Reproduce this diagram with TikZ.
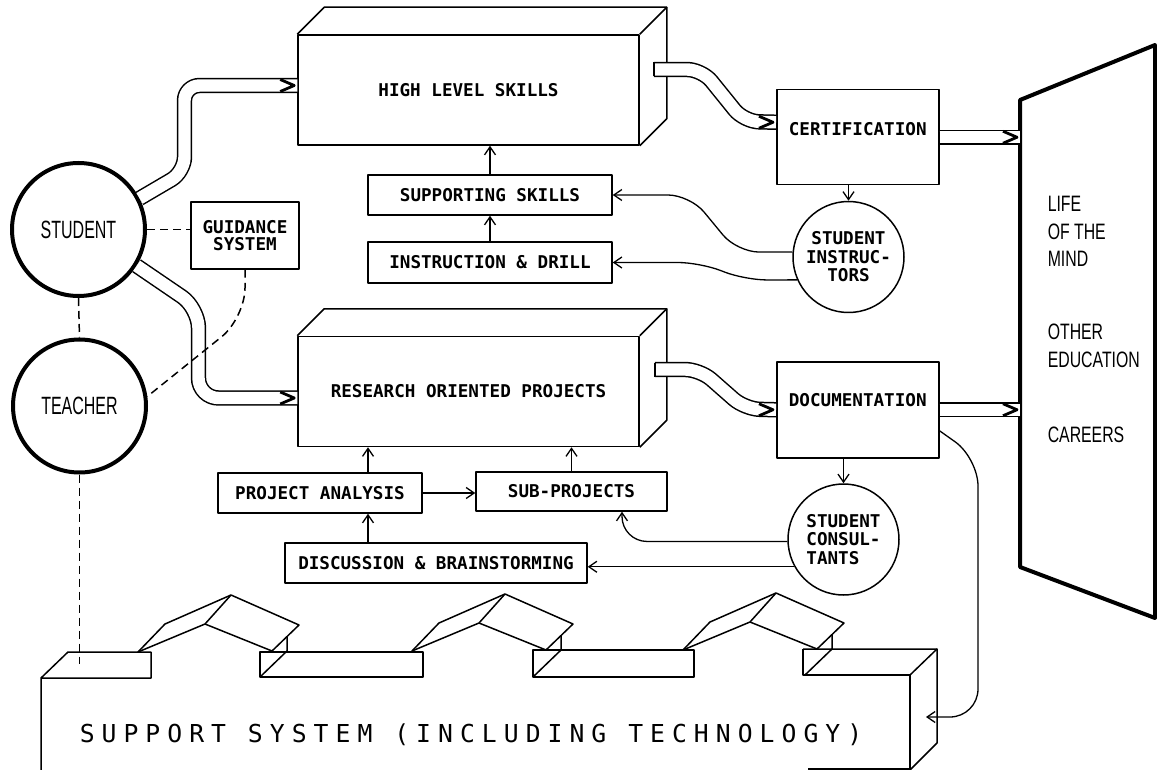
\documentclass[tikz,border=0pt]{standalone}
\usepackage{fontspec}
\setmainfont{DejaVu Sans Mono}
\newfontfamily\circfont[FakeStretch=0.64]{Liberation Sans}
\newfontfamily\panelfont[FakeStretch=0.71]{Liberation Sans}
\newfontfamily\widefont[LetterSpace=28.5]{DejaVu Sans Mono}
\usetikzlibrary{arrows.meta,positioning,calc}

\newcommand\lbl{\bfseries\fontsize{17.6}{18.5}\selectfont}
% top and side faces behind a front face node
\newcommand\slabdepth[1]{%
  \draw (#1.north west) -- ++(27,-27) -| ($(#1.south east)+(27,-27)$) -- (#1.south east);
  \draw (#1.north east) -- ++(27,-27);}

\tikzset{
  pipetip/.pic={\draw[line width=2.8pt] (-17,-6) -- (-3,0) -- (-17,6);},
  lid/.pic={
    \draw (0,0) -- (27,-28) -- (93,-57) -- (161,-27) -- (134,-1);
    \draw (0,0) -- (67,-28) -- (93,-57);
    \draw (67,-28) -- (134,-1);
    \draw (122,25) -- (149,-1) -- (149,-15);
  }
}

\begin{document}
\begin{tikzpicture}[
    x=1pt, y=-1pt, line width=1.5pt, line join=round,
    slab/.style={rectangle,draw,inner sep=0pt,minimum width=341pt,
                 minimum height=110pt,font=\lbl},
    card/.style={rectangle,draw,inner sep=0pt,font=\lbl},
    person/.style={circle,draw,line width=4pt,inner sep=0pt,minimum size=133pt,
                   font={\circfont\fontsize{25}{25}\selectfont}},
    helper/.style={circle,draw,inner sep=0pt,minimum size=111pt,align=center,font=\lbl},
    pipe/.style={double,double distance=12.4pt,rounded corners=15pt},
    arr/.style={-{Straight Barb[length=8pt,width=11pt]},line width=1.3pt},
    dashlink/.style={dash pattern=on 8pt off 5pt}
  ]
  \useasboundingbox (0,0) rectangle (1157,770);

  % people
  \node[person] (student) at (78.5,229.5) {STUDENT};
  \node[person] (teacher) at (79.5,406) {TEACHER};
  \node[card,minimum width=108pt,minimum height=67pt,align=center,
        font=\bfseries\fontsize{17.6}{17}\selectfont] (guid) at (245,235.5) {GUIDANCE\\SYSTEM};

  % upper stream
  \node[slab] (hls) at (468.5,90) {HIGH LEVEL SKILLS};
  \slabdepth{hls}
  \node[card,minimum width=244pt,minimum height=40pt] (ss) at (490,195) {SUPPORTING SKILLS};
  \node[card,minimum width=244pt,minimum height=41pt] (id) at (490,262.5) {INSTRUCTION \& DRILL};
  \node[card,anchor=north west,minimum width=162pt,text height=45.5pt,text depth=49.5pt]
        (cert) at (776,89) {CERTIFICATION};
  \node[helper] (si) at (848.5,257) {STUDENT\\INSTRUC-\\TORS};

  % lower stream
  \node[slab] (ros) at (468.5,391.5) {RESEARCH ORIENTED PROJECTS};
  \slabdepth{ros}
  \node[card,minimum width=204pt,minimum height=40pt] (pa) at (320,493) {PROJECT ANALYSIS};
  \node[card,minimum width=191pt,minimum height=39pt] (sub) at (571.5,491.5) {SUB-PROJECTS};
  \node[card,minimum width=302pt,minimum height=40pt] (disc) at (436,563) {DISCUSSION \& BRAINSTORMING};
  \node[card,anchor=north west,minimum width=162pt,text height=44.5pt,text depth=51.5pt]
        (doc) at (776,361) {DOCUMENTATION};
  \node[helper,align=left] (sc) at (843.5,539.5) {STUDENT\\CONSUL-\\TANTS};

  % outcomes panel
  \coordinate (lifetl) at (1020,100);
  \coordinate (lifetr) at (1155,45);
  \coordinate (lifebr) at (1155,618);
  \coordinate (lifebl) at (1020,567);
  \draw[line width=4pt] (lifetl) -- (lifetr) -- (lifebr) -- (lifebl) -- cycle;
  \node[anchor=base west,align=left,inner sep=0pt,
        font={\panelfont\fontsize{22.3}{27.5}\selectfont}] (life) at (1047,442)
        {LIFE\\OF THE\\MIND\\[45.5pt]OTHER\\EDUCATION\\[47.5pt]CAREERS};

  % support system
  \draw (41,770) -- (41,678) -- (68,652) -- (151,652) -- (151,678) -- (41,678);
  \draw (260,652) rectangle (423,677);
  \draw (533,650) rectangle (694,677);
  \draw (803,649) -- (937,649) -- (937,743) -- (910,770);
  \draw (803,649) -- (803,675) -- (910,675) -- (910,770);
  \draw (910,675) -- (937,649);
  \draw (808,769) -- (910,769);
  \foreach \lx/\ly in {138/652,412/651,683/650}
    \pic at (\lx,\ly) {lid};
  \node[anchor=base west,inner sep=0pt,font={\widefont\fontsize{24.7}{26}\selectfont}]
        (suptext) at (79,742) {SUPPORT SYSTEM (INCLUDING TECHNOLOGY)};
  \coordinate (supin) at (926,717);
  \coordinate (supdock) at (79.5,664);

  % pipes
  \draw[pipe] (student.27) -- (184.5,172) -- (184.5,85.5) -- ([yshift=4.5pt]hls.west);
  \pic at ([yshift=4.5pt]hls.west) {pipetip};
  \draw[pipe,rounded corners=20pt] (student.-32) -- (198.5,308) -- (198.5,398) -- ([yshift=-6.5pt]ros.west);
  \pic at ([yshift=-6.5pt]ros.west) {pipetip};
  \coordinate (hlsout) at ([xshift=14pt,yshift=20.5pt]hls.east);
  \draw[pipe] (hlsout) -- (702,69.5) -- (744,121.5) -- ([yshift=15pt]cert.west);
  \draw ([yshift=7pt]hlsout) -- ([yshift=-7pt]hlsout);
  \pic at ([yshift=15pt]cert.west) {pipetip};
  \coordinate (rosout) at ([xshift=15pt,yshift=22pt]ros.east);
  \draw[pipe] (rosout) -- (700,369.5) -- (745,409) -- (doc.west);
  \draw ([yshift=7pt]rosout) -- ([yshift=-7pt]rosout);
  \pic at (doc.west) {pipetip};
  \draw[pipe] (cert.east) -- (cert.east -| lifetl);
  \pic at (cert.east -| lifetl) {pipetip};
  \draw[pipe] (doc.east) -- (doc.east -| lifetl);
  \pic at (doc.east -| lifetl) {pipetip};

  % arrows
  \draw[arr] (ss.north) -- (ss.north |- hls.south);
  \draw[arr] (id.north) -- (ss.south);
  \draw[arr] (cert.south -| si.north) -- (si.north);
  \draw[arr,rounded corners=22pt] (si.175) -- (737,252) -- (690,195) -- (ss.east);
  \draw[arr,rounded corners=22pt] (si.204) -- (745,280) -- (700,262.5) -- (id.east);
  \draw[arr] ([xshift=48pt]pa.north) -- ([xshift=48pt]pa.north |- ros.south);
  \draw[arr] ([xshift=48pt]pa.south |- disc.north) -- ([xshift=48pt]pa.south);
  \draw[arr] (pa.east) -- (pa.east -| sub.west);
  \draw[arr] (sub.north) -- (sub.north |- ros.south);
  \draw[arr] (doc.south -| sc.north) -- (sc.north);
  \draw[arr,rounded corners=25pt] (sc.182) -| ([xshift=50.5pt]sub.south);
  \draw[arr] (sc.209) -- (sc.209 -| disc.east);
  \draw[arr,rounded corners=28pt] ([yshift=-21pt]doc.east) -- (978,458) -- (978,717) -- (supin);

  % guidance links
  \draw[dashlink] (student.east) -- (student.east -| guid.west);
  \draw[dashlink,rounded corners=30pt] (guid.south) -- (245,318) -- (teacher.8);
  \draw[dashlink] (student.south) -- (teacher.north);
  \draw[dashlink] (teacher.south) -- (supdock);
\end{tikzpicture}
\end{document}
